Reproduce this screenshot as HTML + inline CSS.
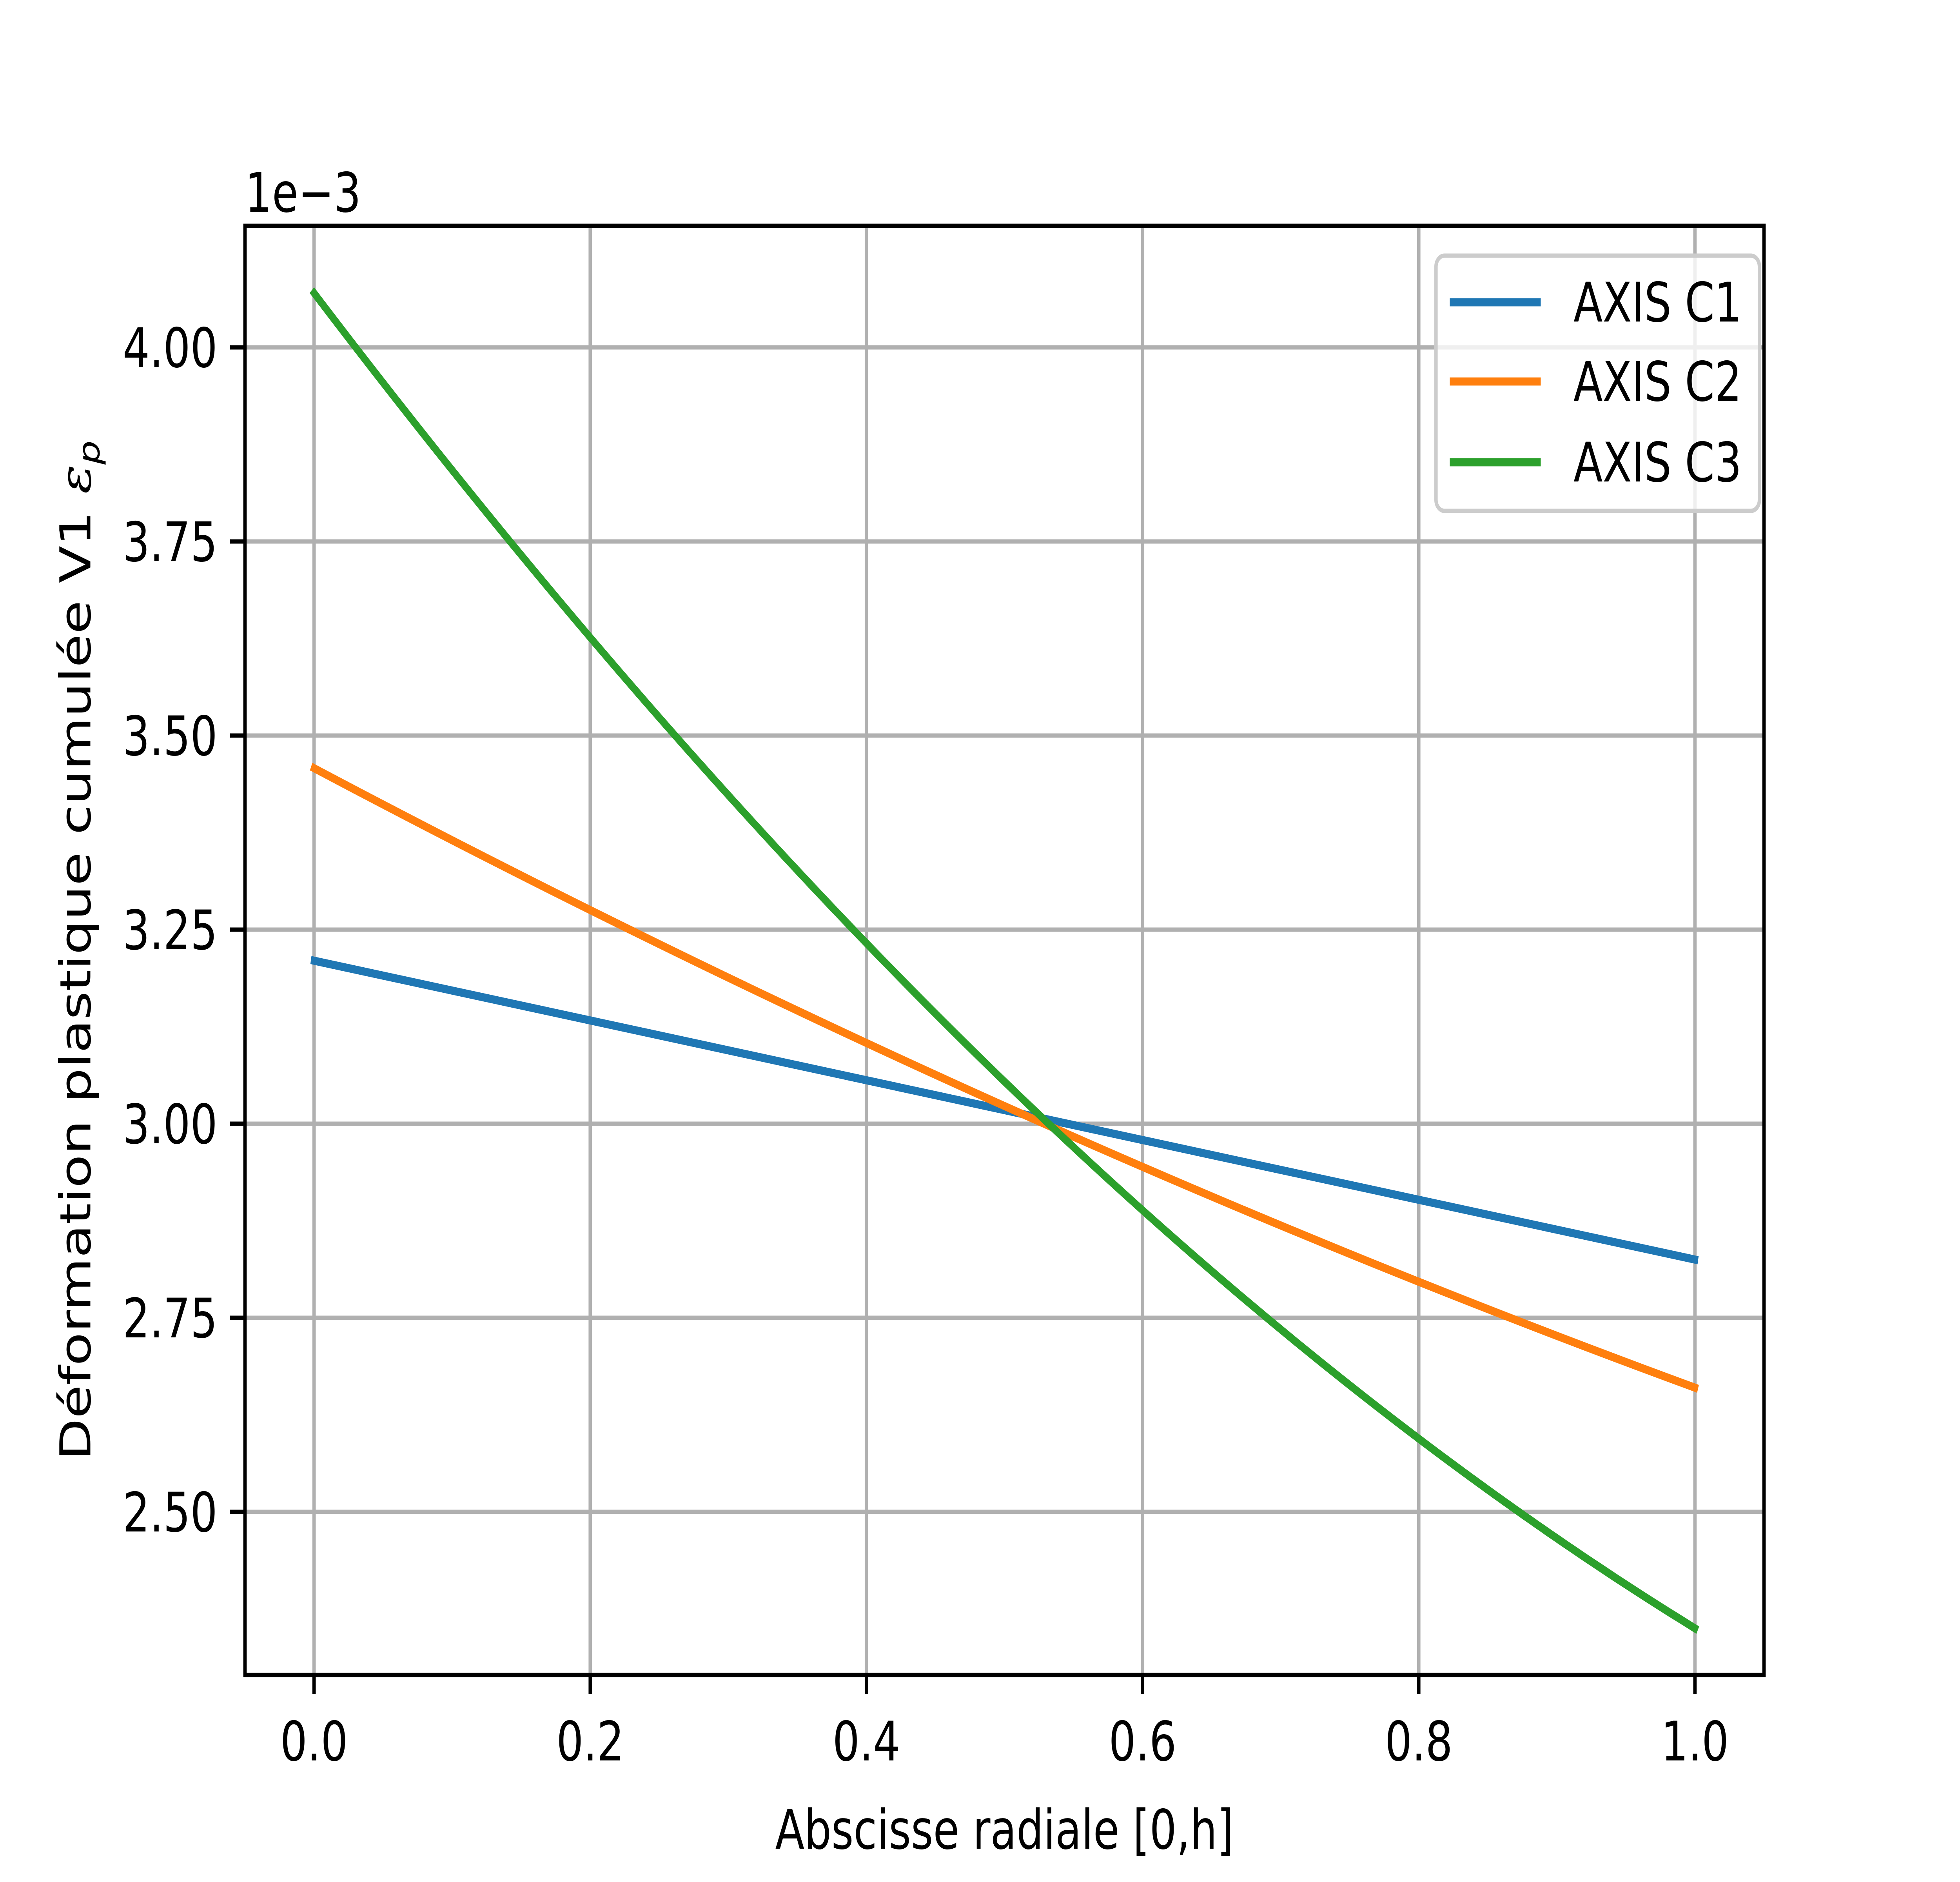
<!DOCTYPE html>
<html><head><meta charset="utf-8"><style>html,body{margin:0;padding:0;background:#fff;width:100%;height:100%;overflow:hidden}svg{display:block;width:100vw;height:100vh}</style></head>
<body>
<svg viewBox="0 0 6400 4800" preserveAspectRatio="none" xmlns="http://www.w3.org/2000/svg" font-family="'DejaVu Sans','Liberation Sans',sans-serif" font-size="139">
<rect width="6400" height="4800" fill="#fff"/>
<g stroke="#b0b0b0" stroke-width="11">
<line x1="1025.5" y1="576" x2="1025.5" y2="4272"/>
<line x1="1927.3" y1="576" x2="1927.3" y2="4272"/>
<line x1="2829.1" y1="576" x2="2829.1" y2="4272"/>
<line x1="3730.9" y1="576" x2="3730.9" y2="4272"/>
<line x1="4632.7" y1="576" x2="4632.7" y2="4272"/>
<line x1="5534.5" y1="576" x2="5534.5" y2="4272"/>
<line x1="800" y1="3856" x2="5760" y2="3856"/>
<line x1="800" y1="3361" x2="5760" y2="3361"/>
<line x1="800" y1="2866" x2="5760" y2="2866"/>
<line x1="800" y1="2371" x2="5760" y2="2371"/>
<line x1="800" y1="1876" x2="5760" y2="1876"/>
<line x1="800" y1="1381" x2="5760" y2="1381"/>
<line x1="800" y1="886" x2="5760" y2="886"/>
</g>
<g fill="none" stroke-width="20.8" stroke-linecap="square">
<line x1="1025.5" y1="2450.2" x2="5534.5" y2="3212.5" stroke="#1f77b4"/>
<path d="M1025.5 1959.2 Q3280 2892.7 5534.5 3539.2" stroke="#ff7f0e"/>
<path d="M1025.5 747.4 Q3280 3067 5534.5 4153" stroke="#2ca02c"/>
</g>
<rect x="800" y="576" width="4960" height="3696" fill="none" stroke="#000" stroke-width="11"/>
<g stroke="#000" stroke-width="11">
<line x1="1025.5" y1="4272" x2="1025.5" y2="4321"/>
<line x1="1927.3" y1="4272" x2="1927.3" y2="4321"/>
<line x1="2829.1" y1="4272" x2="2829.1" y2="4321"/>
<line x1="3730.9" y1="4272" x2="3730.9" y2="4321"/>
<line x1="4632.7" y1="4272" x2="4632.7" y2="4321"/>
<line x1="5534.5" y1="4272" x2="5534.5" y2="4321"/>
<line x1="751" y1="3856" x2="800" y2="3856"/>
<line x1="751" y1="3361" x2="800" y2="3361"/>
<line x1="751" y1="2866" x2="800" y2="2866"/>
<line x1="751" y1="2371" x2="800" y2="2371"/>
<line x1="751" y1="1876" x2="800" y2="1876"/>
<line x1="751" y1="1381" x2="800" y2="1381"/>
<line x1="751" y1="886" x2="800" y2="886"/>
</g>
<g text-anchor="middle">
<text x="1025.5" y="4490">0.0</text>
<text x="1927.3" y="4490">0.2</text>
<text x="2829.1" y="4490">0.4</text>
<text x="3730.9" y="4490">0.6</text>
<text x="4632.7" y="4490">0.8</text>
<text x="5534.5" y="4490">1.0</text>
<text x="3280" y="4715">Abscisse radiale [0,h]</text>
</g>
<g text-anchor="end">
<text x="710" y="3906">2.50</text>
<text x="710" y="3411">2.75</text>
<text x="710" y="2916">3.00</text>
<text x="710" y="2421">3.25</text>
<text x="710" y="1926">3.50</text>
<text x="710" y="1431">3.75</text>
<text x="710" y="936">4.00</text>
</g>
<text x="800" y="540">1e−3</text>
<text transform="translate(295 2424) rotate(-90)" text-anchor="middle">Déformation plastique cumulée V1 <tspan font-style="italic" font-family="'DejaVu Serif',serif">ε</tspan><tspan font-style="italic" font-size="97" dy="30">p</tspan></text>
<rect x="4689" y="652" width="1056" height="651" rx="28" fill="#fff" fill-opacity="0.8" stroke="#cccccc" stroke-width="11"/>
<g stroke-width="20.8">
<line x1="4734" y1="771" x2="5031" y2="771" stroke="#1f77b4"/>
<line x1="4734" y1="973" x2="5031" y2="973" stroke="#ff7f0e"/>
<line x1="4734" y1="1179" x2="5031" y2="1179" stroke="#2ca02c"/>
</g>
<text x="5138" y="820">AXIS C1</text>
<text x="5138" y="1022">AXIS C2</text>
<text x="5138" y="1228">AXIS C3</text>
</svg>
</body></html>
